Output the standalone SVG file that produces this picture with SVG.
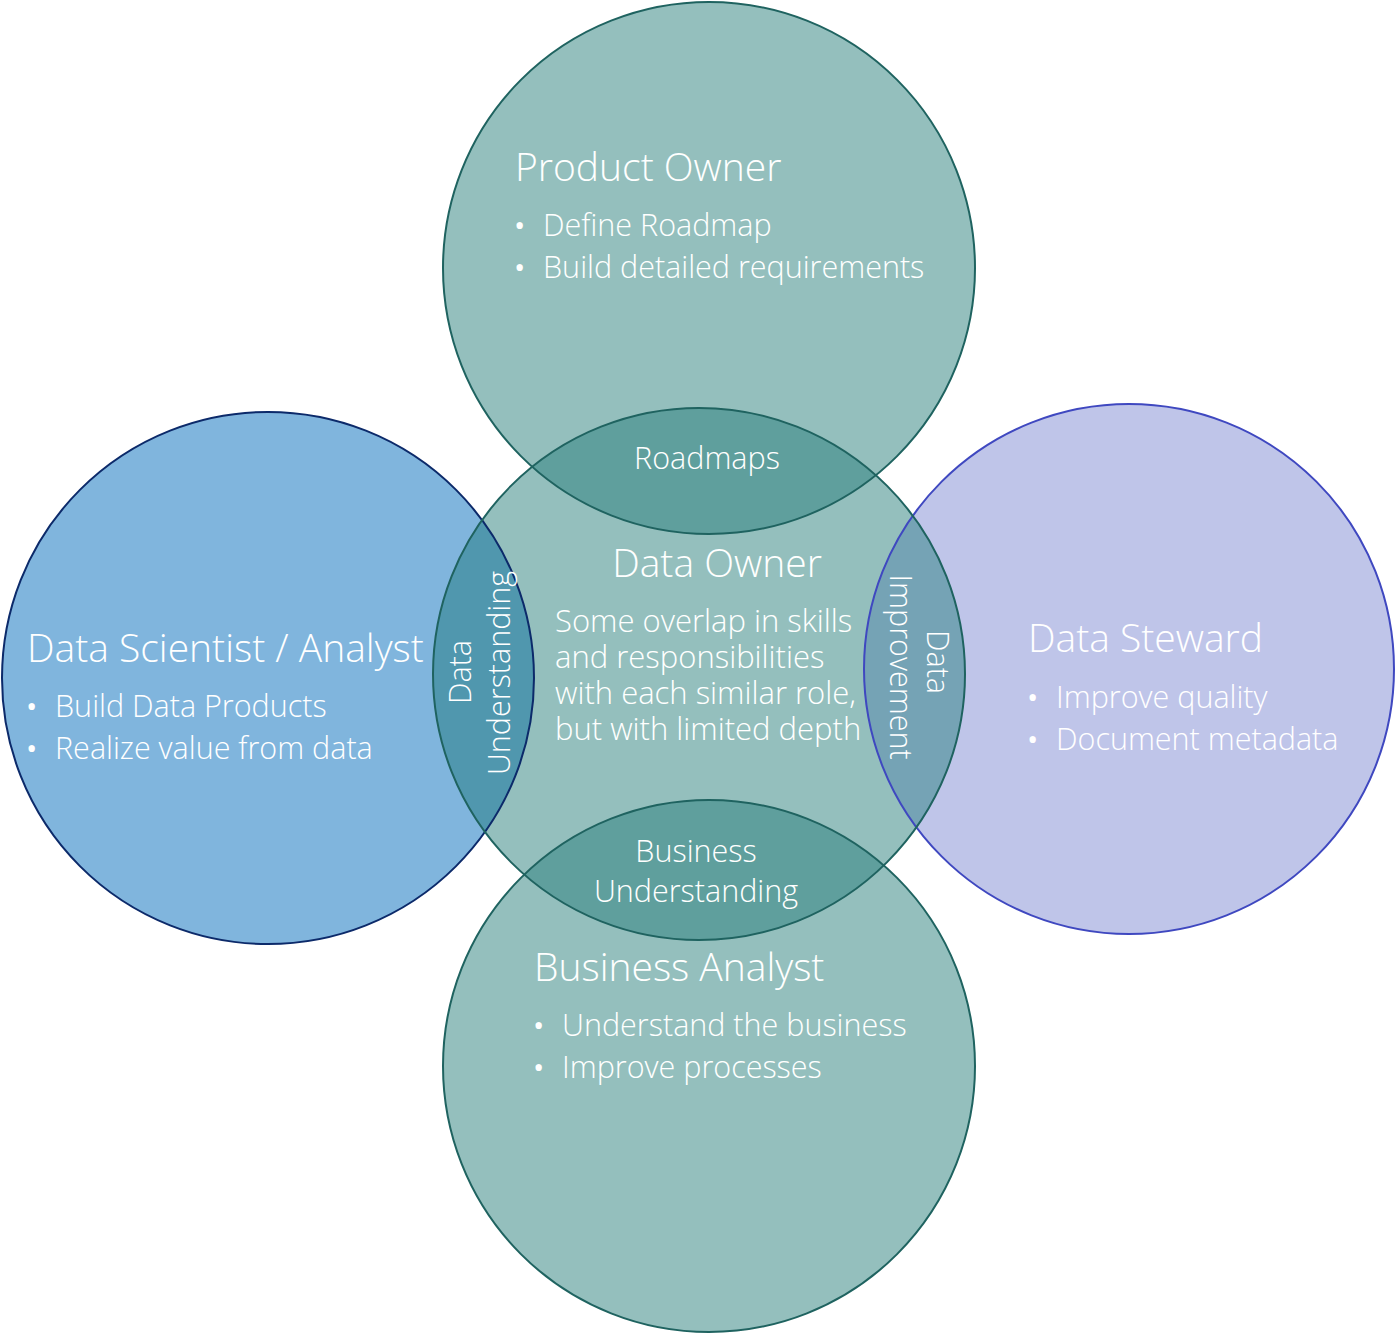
<svg xmlns="http://www.w3.org/2000/svg" width="1395" height="1333" viewBox="0 0 1395 1333">
<style>
text{font-family:"Open Sans","Noto Sans","Liberation Sans",sans-serif;font-weight:300;fill:#ffffff}
.title{font-size:39px}
.item{font-size:30.5px}
.dot{font-size:30px;font-weight:400}
.lens{font-size:30.5px;text-anchor:middle}
.body{font-size:31px}
.teal{fill:#94BFBD}
.tealS{fill:none;stroke:#1F6360;stroke-width:2}
</style>
<defs>
<clipPath id="cPO"><circle cx="709" cy="268" r="266"/></clipPath>
<clipPath id="cBA"><circle cx="709" cy="1066" r="266"/></clipPath>
<clipPath id="cDS"><circle cx="268" cy="678" r="266"/></clipPath>
<clipPath id="cST"><circle cx="1129" cy="669" r="265"/></clipPath>
</defs>
<g id="connectors"></g>
<g id="fills">
<circle cx="709" cy="268" r="266" class="teal"/>
<circle cx="709" cy="1066" r="266" class="teal"/>
<circle cx="268" cy="678" r="266" fill="#80B5DD"/>
<circle cx="1129" cy="669" r="265" fill="#BFC5E9"/>
<circle cx="699" cy="674" r="266" class="teal"/>
<circle cx="699" cy="674" r="266" fill="#5F9F9D" clip-path="url(#cPO)"/>
<circle cx="699" cy="674" r="266" fill="#5F9F9D" clip-path="url(#cBA)"/>
<circle cx="699" cy="674" r="266" fill="#5097AE" clip-path="url(#cDS)"/>
<circle cx="699" cy="674" r="266" fill="#75A3B5" clip-path="url(#cST)"/>
</g>
<g id="product-owner">
<circle cx="709" cy="268" r="266" class="tealS"/>
<text class="title" x="515" y="181">Product Owner</text>
<text class="dot" x="514" y="236">•</text><text class="item" x="543" y="236">Define Roadmap</text>
<text class="dot" x="514" y="278">•</text><text class="item" x="543" y="278">Build detailed requirements</text>
</g>
<g id="business-analyst">
<circle cx="709" cy="1066" r="266" class="tealS"/>
<text class="title" x="534" y="981">Business Analyst</text>
<text class="dot" x="533" y="1036">•</text><text class="item" x="562" y="1036">Understand the business</text>
<text class="dot" x="533" y="1078">•</text><text class="item" x="562" y="1078">Improve processes</text>
</g>
<g id="data-scientist">
<circle cx="268" cy="678" r="266" fill="none" stroke="#0C2A6A" stroke-width="2"/>
<text class="title" x="27" y="662">Data Scientist / Analyst</text>
<text class="dot" x="26" y="717">•</text><text class="item" x="55" y="717">Build Data Products</text>
<text class="dot" x="26" y="759">•</text><text class="item" x="55" y="759">Realize value from data</text>
</g>
<g id="data-steward">
<circle cx="1129" cy="669" r="265" fill="none" stroke="#3F48C0" stroke-width="2"/>
<text class="title" x="1028" y="652">Data Steward</text>
<text class="dot" x="1027" y="708">•</text><text class="item" x="1056" y="708">Improve quality</text>
<text class="dot" x="1027" y="750">•</text><text class="item" x="1056" y="750">Document metadata</text>
</g>
<g id="data-owner">
<circle cx="699" cy="674" r="266" class="tealS"/>
<text class="title" x="717" y="577" text-anchor="middle">Data Owner</text>
<text class="body" x="555" y="632">Some overlap in skills</text>
<text class="body" x="555" y="668">and responsibilities</text>
<text class="body" x="555" y="704">with each similar role,</text>
<text class="body" x="555" y="740">but with limited depth</text>
</g>
<g id="roadmaps"><text class="lens" x="707" y="469">Roadmaps</text></g>
<g id="business-understanding">
<text class="lens" x="696" y="862">Business</text>
<text class="lens" x="696" y="902">Understanding</text>
</g>
<g id="data-understanding">
<text class="lens" transform="translate(471,672) rotate(-90)">Data</text>
<text class="lens" transform="translate(510,673) rotate(-90)">Understanding</text>
</g>
<g id="data-improvement">
<text class="lens" transform="translate(927,662) rotate(90)">Data</text>
<text class="lens" transform="translate(890,667) rotate(90)">Improvement</text>
</g>
</svg>
